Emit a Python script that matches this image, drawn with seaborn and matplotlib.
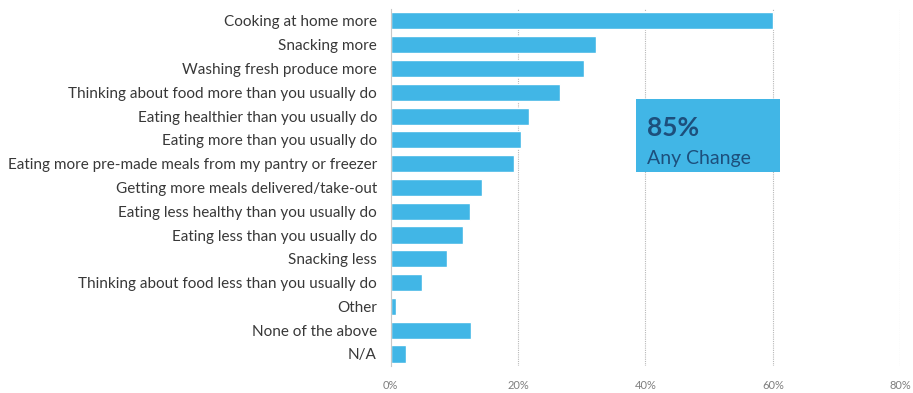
import matplotlib
matplotlib.use("Agg")
import matplotlib.pyplot as plt
from matplotlib.patches import Rectangle
import seaborn as sns
import pandas as pd

categories = [
    "Cooking at home more",
    "Snacking more",
    "Washing fresh produce more",
    "Thinking about food more than you usually do",
    "Eating healthier than you usually do",
    "Eating more than you usually do",
    "Eating more pre-made meals from my pantry or freezer",
    "Getting more meals delivered/take-out",
    "Eating less healthy than you usually do",
    "Eating less than you usually do",
    "Snacking less",
    "Thinking about food less than you usually do",
    "Other",
    "None of the above",
    "N/A",
]
values = [60.0, 32.3, 30.3, 26.5, 21.7, 20.4, 19.4, 14.3, 12.4, 11.3, 8.9, 4.9, 0.8, 12.6, 2.4]
x_ticks = [0, 20, 40, 60, 80]
x_tick_labels = ["0%", "20%", "40%", "60%", "80%"]
callout_value = "85%"
callout_label = "Any Change"

bar_color = "#41b6e6"
text_dark = "#1d4f7c"

sns.set_theme(style="white")
plt.rcParams["font.family"] = ["Lato", "DejaVu Sans"]

df = pd.DataFrame({"item": categories, "pct": values})

fig = plt.figure(figsize=(9.13, 3.93), dpi=100)
ax = fig.add_axes([0.428, 0.069, 0.558, 0.908])

sns.barplot(data=df, x="pct", y="item", orient="h", color=bar_color,
            saturation=1, width=0.72, ax=ax)

ax.set_xlim(0, 80)
ax.set_ylim(len(categories) - 0.5, -0.5)
ax.set_xticks(x_ticks)
ax.set_xticklabels(x_tick_labels, fontsize=8, color="#7f7f7f")
ax.tick_params(axis="y", labelsize=11, labelcolor="#383838", length=0, pad=10)
ax.tick_params(axis="x", length=0, pad=10)
ax.set_xlabel("")
ax.set_ylabel("")

for t in x_ticks[1:]:
    ax.axvline(t, color="#b8b8b8", lw=0.8, ls=(0, (1, 1)), zorder=0)

for side in ["top", "right", "bottom"]:
    ax.spines[side].set_visible(False)
ax.spines["left"].set_color("#c8c8c8")
ax.spines["left"].set_linewidth(0.8)

# Callout box summarising overall change
box = Rectangle((38.5, 3.3), 22.6, 3.05, facecolor=bar_color, edgecolor="none",
                transform=ax.transData, zorder=3)
ax.add_patch(box)
ax.text(40.2, 4.5, callout_value, fontsize=19, fontweight="bold",
        color=text_dark, va="center", ha="left", zorder=4)
ax.text(40.2, 5.8, callout_label, fontsize=14, color=text_dark,
        va="center", ha="left", zorder=4)

fig.savefig("out.png", dpi=100)
